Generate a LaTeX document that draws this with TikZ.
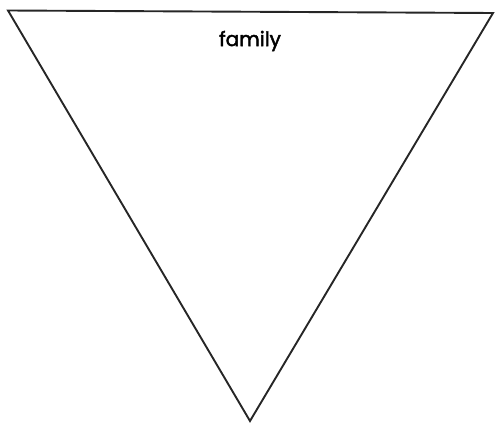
\documentclass[tikz,border=0pt]{standalone}
\usepackage{fontspec}
\setsansfont{Poppins}[FakeBold=2]
\usepackage{tikz}

\begin{document}
\begin{tikzpicture}[x=1pt, y=-1pt, line join=miter]
  \useasboundingbox (0,0) rectangle (495,423);

  % cantos do triangulo
  \coordinate (TL) at (8,10.5);
  \coordinate (TR) at (493,13);
  \coordinate (B) at (250,421);

  \draw[line width=1.9pt, black!85] (TL) -- (TR) -- (B) -- cycle;

  % rotulo
  \node[font=\sffamily\fontsize{20}{23}\selectfont] (fam) at (250,41) {family};
\end{tikzpicture}
\end{document}
